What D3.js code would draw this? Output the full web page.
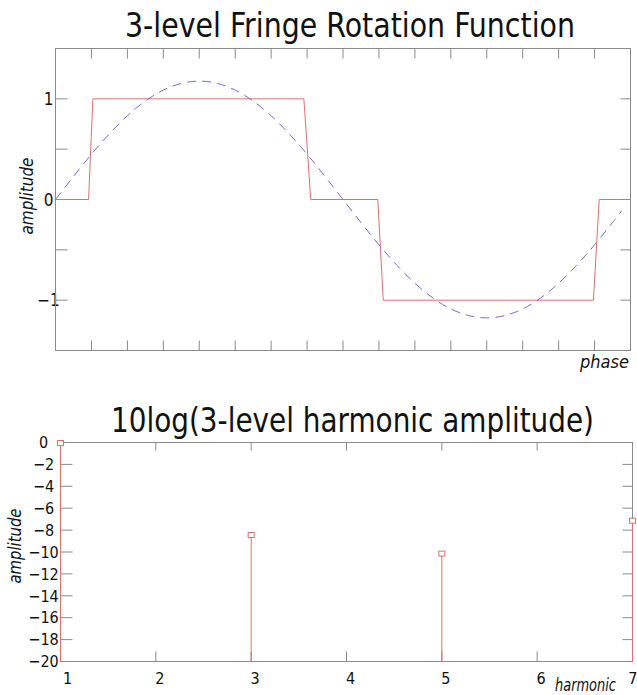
<!DOCTYPE html>
<html>
<head>
<meta charset="utf-8">
<script src="https://cdn.jsdelivr.net/npm/d3@7"></script>
<style>
  body { margin: 0; background: #fff; }
  svg { display: block; }
  text { font-family: "DejaVu Sans Condensed", "DejaVu Sans", Verdana, sans-serif; fill: #111; }
</style>
</head>
<body>
<div class="chart"></div>
<script>

// ---- top panel: 3-level function (phase in degrees) ----
var stepPhase = [0, 20.7, 23.4, 155.5, 159.8, 201.8, 205.2, 336.8, 340.4, 354.4];
var stepAmp   = [0, 0, 1, 1, 0, 0, -1, -1, 0, 0];

var fundPhase = [0, 11.25, 22.5, 33.75, 45, 56.25, 67.5, 78.75, 90, 101.25, 112.5, 123.75,
                 135, 146.25, 157.5, 168.75, 180, 191.25, 202.5, 213.75, 225, 236.25, 247.5,
                 258.75, 270, 281.25, 292.5, 303.75, 315, 326.25, 337.5, 348.75, 354.4];
var fundAmp   = [0, 0.229, 0.45, 0.653, 0.832, 0.978, 1.087, 1.153, 1.176, 1.153, 1.087, 0.978,
                 0.832, 0.653, 0.45, 0.229, 0, -0.229, -0.45, -0.653, -0.832, -0.978, -1.087,
                 -1.153, -1.176, -1.153, -1.087, -0.978, -0.832, -0.653, -0.45, -0.229, -0.115];

var phaseTicks = [22.5, 45, 67.5, 90, 112.5, 135, 157.5, 180, 202.5, 225, 247.5, 270,
                  292.5, 315, 337.5];
var ampTicks = [-1, -0.5, 0, 0.5, 1];

// ---- bottom panel: harmonics ----
var harmonics = [1, 3, 5, 7];
var harmDb    = [0, -8.4, -10.1, -7.1];
var harmTicks = [1, 2, 3, 4, 5, 6, 7];
var dbTicks   = [0, -2, -4, -6, -8, -10, -12, -14, -16, -18, -20];

var width = 637, height = 695;
var red = "#e07070", blue = "#7070d0", frame = "#8a8a8a";

var svg = d3.select(".chart").append("svg")
            .attr("width", width)
            .attr("height", height);

function drawFrame(g, w, h) {
  g.append("rect")
   .attr("x", 0).attr("y", 0)
   .attr("width", w).attr("height", h)
   .attr("fill", "none")
   .attr("stroke", frame)
   .attr("stroke-width", 1);
}

function tidy(sel) {
  sel.select(".domain").remove();
  sel.selectAll(".tick line").attr("stroke", frame);
}

// ================= top =================
var p1 = {left: 55, top: 48, w: 575, h: 302};
var upper = svg.append("g").attr("transform", "translate(" + (p1.left + 0.5) + "," + (p1.top + 0.5) + ")");

var x1 = d3.scaleLinear().domain([0, 360]).range([0, p1.w]);
var y1 = d3.scaleLinear().domain([-1.5, 1.5]).range([p1.h, 0]);

upper.append("g")
   .call(d3.axisTop(x1).tickValues(phaseTicks).tickSize(-10).tickFormat("").offset(0))
   .call(tidy);

upper.append("g")
   .attr("transform", "translate(0," + p1.h + ")")
   .call(d3.axisBottom(x1).tickValues(phaseTicks).tickSize(-10).tickFormat("").offset(0))
   .call(tidy);

upper.append("g")
   .call(d3.axisLeft(y1).tickValues(ampTicks).tickSize(-12).offset(0)
           .tickFormat(function(d) { return Number.isInteger(d) ? d3.format("d")(d) : ""; }))
   .call(tidy)
   .call(function(g) {
     g.selectAll("text")
      .attr("x", -7).attr("dy", "0.36em")
      .attr("text-anchor", "middle")
      .attr("font-size", "17px");
   });

upper.append("g")
   .attr("transform", "translate(" + p1.w + ",0)")
   .call(d3.axisRight(y1).tickValues(ampTicks).tickSize(-10).tickFormat("").offset(0))
   .call(tidy);

drawFrame(upper, p1.w, p1.h);

var stepLine = d3.line()
                 .x(function(d, i) { return x1(stepPhase[i]); })
                 .y(function(d) { return y1(d); });

upper.append("path")
   .attr("d", stepLine(stepAmp))
   .attr("fill", "none")
   .attr("stroke", red)
   .attr("stroke-width", 1);

var fundLine = d3.line()
                 .x(function(d, i) { return x1(fundPhase[i]); })
                 .y(function(d) { return y1(d); })
                 .curve(d3.curveNatural);

upper.append("path")
   .attr("d", fundLine(fundAmp))
   .attr("fill", "none")
   .attr("stroke", blue)
   .attr("stroke-width", 1)
   .attr("stroke-dasharray", "9,6");

svg.append("text")
   .text("3-level Fringe Rotation Function")
   .attr("x", 125).attr("y", 37)
   .attr("font-size", "34px")
   .attr("textLength", 450)
   .attr("lengthAdjust", "spacingAndGlyphs");

svg.append("text")
   .text("amplitude")
   .attr("transform", "translate(33,196) rotate(-90)")
   .attr("text-anchor", "middle")
   .attr("font-size", "17px")
   .attr("font-style", "italic")
   .attr("textLength", 77)
   .attr("lengthAdjust", "spacingAndGlyphs");

svg.append("text")
   .text("phase")
   .attr("x", 580).attr("y", 368)
   .attr("font-size", "17px")
   .attr("font-style", "italic")
   .attr("textLength", 49)
   .attr("lengthAdjust", "spacingAndGlyphs");

// ================= bottom =================
var p2 = {left: 60, top: 442, w: 572, h: 219};
var lower = svg.append("g").attr("transform", "translate(" + (p2.left + 0.5) + "," + (p2.top + 0.5) + ")");

var x2 = d3.scaleLinear().domain([1, 7]).range([0, p2.w]);
var y2 = d3.scaleLinear().domain([-20, 0]).range([p2.h, 0]);

lower.append("g")
   .call(d3.axisTop(x2).tickValues(harmTicks).tickSize(-8).tickFormat("").offset(0))
   .call(tidy);

lower.append("g")
   .attr("transform", "translate(0," + p2.h + ")")
   .call(d3.axisBottom(x2).tickValues(harmTicks).tickSize(-10).tickFormat(d3.format("d")).offset(0))
   .call(tidy)
   .call(function(g) {
     g.selectAll("text")
      .attr("y", 11).attr("dx", 4)
      .attr("font-size", "16px");
     g.selectAll(".tick:first-child text").attr("dx", 7);
     g.selectAll(".tick:last-child text").attr("text-anchor", "end").attr("dx", 5);
   });

lower.append("g")
   .call(d3.axisLeft(y2).tickValues(dbTicks).tickSize(-12).tickFormat(d3.format("d")).offset(0))
   .call(tidy)
   .call(function(g) {
     g.selectAll("text")
      .attr("x", -17).attr("dy", "0.36em")
      .attr("text-anchor", "middle")
      .attr("font-size", "16px");
   });

lower.append("g")
   .attr("transform", "translate(" + p2.w + ",0)")
   .call(d3.axisRight(y2).tickValues(dbTicks).tickSize(-10).tickFormat("").offset(0))
   .call(tidy);

drawFrame(lower, p2.w, p2.h);

lower.selectAll(".stem")
   .data(harmonics)
   .enter()
   .append("line")
   .attr("class", "stem")
   .attr("x1", function(d) { return x2(d); })
   .attr("x2", function(d) { return x2(d); })
   .attr("y1", function(d, i) { return y2(harmDb[i]); })
   .attr("y2", y2(-20))
   .attr("stroke", red)
   .attr("stroke-width", 1);

lower.selectAll(".mark")
   .data(harmonics)
   .enter()
   .append("rect")
   .attr("class", "mark")
   .attr("x", function(d) { return x2(d) - 3; })
   .attr("y", function(d, i) { return y2(harmDb[i]) - 2; })
   .attr("width", 6)
   .attr("height", 5)
   .attr("fill", "#fff")
   .attr("stroke", red)
   .attr("stroke-width", 1);

svg.append("text")
   .text("10log(3-level harmonic amplitude)")
   .attr("x", 111).attr("y", 432)
   .attr("font-size", "33px")
   .attr("textLength", 483)
   .attr("lengthAdjust", "spacingAndGlyphs");

svg.append("text")
   .text("amplitude")
   .attr("transform", "translate(21,546) rotate(-90)")
   .attr("text-anchor", "middle")
   .attr("font-size", "17px")
   .attr("font-style", "italic")
   .attr("textLength", 75)
   .attr("lengthAdjust", "spacingAndGlyphs");

svg.append("text")
   .text("harmonic")
   .attr("x", 555).attr("y", 691)
   .attr("font-size", "17px")
   .attr("font-style", "italic")
   .attr("textLength", 61)
   .attr("lengthAdjust", "spacingAndGlyphs");

</script>
</body>
</html>
